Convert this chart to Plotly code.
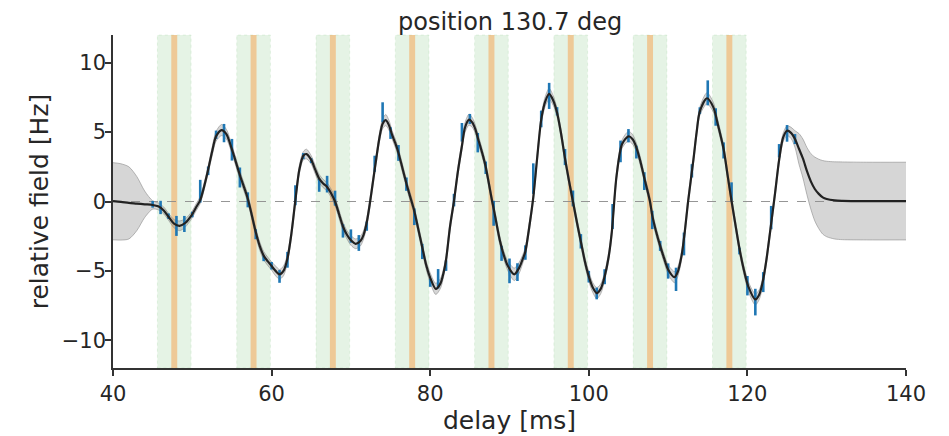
import plotly.graph_objects as go

# ---- fitted curve ----
curve_x = [40.0, 41.0, 42.0, 43.0, 44.0, 45.0, 45.7, 46.4, 47.0, 47.7,
           48.4, 49.1, 49.9, 50.5, 51.0, 51.5, 52.0, 52.5, 53.0, 53.7,
           54.3, 55.0, 56.0, 57.0, 58.0, 58.5, 59.0, 59.5, 60.0, 60.5,
           61.0, 61.5, 62.0, 62.5, 63.0, 63.5, 64.0, 64.4, 65.0, 65.5,
           66.0, 66.5, 67.0, 67.5, 68.0, 68.5, 69.0, 69.5, 70.0, 70.6,
           71.2, 71.6, 72.0, 72.4, 72.8, 73.2, 73.6, 74.0, 74.4, 74.8,
           75.2, 75.6, 76.0, 76.5, 77.0, 77.5, 78.0, 78.5, 79.0, 79.5,
           80.0, 80.7, 81.3, 81.7, 82.0, 82.5, 83.0, 83.5, 84.0, 84.4,
           84.9, 85.3, 85.7, 86.0, 86.7, 87.0, 87.8, 88.0, 88.8, 89.3,
           89.8, 90.6, 91.2, 91.7, 92.0, 92.5, 93.0, 93.5, 94.0, 94.5,
           95.0, 95.5, 96.0, 96.5, 97.0, 97.5, 98.0, 98.5, 99.0, 99.5,
           100.0, 100.5, 101.0, 101.5, 102.0, 102.5, 102.9, 103.5, 104.2, 105.0,
           105.5, 106.0, 106.5, 107.0, 107.7, 108.0, 108.5, 109.0, 109.5, 110.0,
           110.8, 111.2, 111.7, 112.1, 112.5, 113.2, 113.6, 114.0, 114.9, 115.7,
           116.3, 117.0, 117.5, 118.0, 118.5, 119.0, 119.5, 120.1, 121.0, 121.5,
           122.0, 122.4, 122.85, 123.5, 124.0, 124.5, 125.0, 125.5, 126.0, 126.5,
           127.0, 127.5, 128.0, 128.5, 129.0, 129.5, 130.0, 131.0, 132.0, 135.0,
           140.0]
curve_y = [0.02, -0.03, -0.1, -0.15, -0.2, -0.25, -0.35, -0.65, -1.1, -1.6,
           -1.75, -1.55, -1.0, -0.4, 0.1, 1.1, 2.3, 3.6, 4.7, 5.15,
           4.85, 3.75, 1.9, 0.2, -2.2, -3.2, -3.9, -4.3, -4.65, -5.0,
           -5.25, -5.0, -4.1, -2.3, 0.1, 2.3, 3.3, 3.42, 3.0, 2.3,
           1.65, 1.3, 1.05, 0.6, 0.0, -0.9, -1.8, -2.4, -2.8, -3.05,
           -2.85, -2.4, -1.5, -0.1, 1.5, 3.1, 4.6, 5.6, 5.87, 5.5,
           4.8, 4.2, 3.5, 2.4, 1.3, 0.3, -0.7, -2.0, -3.3, -4.6,
           -5.5, -6.3, -5.9, -5.1, -4.2, -1.8, 0.05, 2.2, 4.0, 5.35,
           5.9, 5.7, 5.2, 4.6, 3.2, 2.5, 0.05, -0.5, -2.85, -3.9,
           -4.65, -5.25, -4.8, -4.1, -3.6, -1.8, 0.3, 3.2, 5.9, 7.2,
           7.75, 7.3, 6.4, 4.9, 3.1, 1.5, 0.0, -1.5, -2.9, -4.3,
           -5.4, -6.2, -6.6, -6.3, -5.4, -4.0, -2.2, 1.85, 4.14, 4.7,
           4.5, 3.9, 2.9, 1.7, 0.05, -1.0, -2.2, -3.2, -4.1, -4.9,
           -5.45, -5.1, -3.9, -2.2, -0.1, 3.06, 5.0, 6.5, 7.44, 6.8,
           5.5, 3.78, 1.9, 0.05, -1.7, -3.4, -4.8, -6.1, -7.06, -6.7,
           -5.6, -4.2, -2.24, 0.65, 3.0, 4.6, 5.1, 4.95, 4.5, 3.8,
           3.1, 2.2, 1.45, 0.9, 0.55, 0.3, 0.18, 0.08, 0.05, 0.03,
           0.03]
curve_sd = [2.78, 2.75, 2.6, 1.95, 0.95, 0.3, 0.25, 0.25, 0.25, 0.3,
            0.35, 0.3, 0.25, 0.25, 0.25, 0.25, 0.25, 0.3, 0.35, 0.4,
            0.35, 0.3, 0.3, 0.3, 0.3, 0.3, 0.3, 0.3, 0.3, 0.35,
            0.35, 0.35, 0.3, 0.3, 0.3, 0.3, 0.3, 0.35, 0.3, 0.3,
            0.3, 0.3, 0.3, 0.3, 0.3, 0.3, 0.3, 0.3, 0.35, 0.35,
            0.35, 0.3, 0.3, 0.3, 0.3, 0.3, 0.3, 0.35, 0.4, 0.35,
            0.3, 0.3, 0.3, 0.3, 0.3, 0.3, 0.3, 0.3, 0.3, 0.3,
            0.35, 0.4, 0.35, 0.3, 0.3, 0.3, 0.3, 0.3, 0.3, 0.35,
            0.4, 0.35, 0.3, 0.3, 0.3, 0.3, 0.3, 0.3, 0.3, 0.3,
            0.35, 0.45, 0.4, 0.3, 0.3, 0.3, 0.3, 0.3, 0.3, 0.35,
            0.4, 0.35, 0.3, 0.3, 0.3, 0.3, 0.3, 0.3, 0.3, 0.3,
            0.35, 0.35, 0.4, 0.35, 0.3, 0.3, 0.3, 0.3, 0.3, 0.35,
            0.35, 0.3, 0.3, 0.3, 0.3, 0.3, 0.3, 0.3, 0.3, 0.35,
            0.4, 0.35, 0.3, 0.3, 0.3, 0.3, 0.3, 0.3, 0.4, 0.35,
            0.3, 0.3, 0.3, 0.3, 0.3, 0.3, 0.3, 0.35, 0.4, 0.35,
            0.3, 0.3, 0.3, 0.3, 0.3, 0.3, 0.35, 0.4, 0.6, 1.1,
            1.4, 1.7, 2.0, 2.3, 2.5, 2.65, 2.72, 2.78, 2.8, 2.8,
            2.8]

# ---- measured points with error bars ----
bar_x = list(range(45, 127))
bar_y = [-0.2, -0.43, -1.06, -1.76, -1.62, -0.94, 0.74, 2.21, 4.81, 4.93,
         3.73, 1.73, 0.12, -2.36, -4.1, -4.63, -5.4, -4.2, 0.45, 3.27,
         2.94, 1.18, 1.25, 0.24, -2.12, -2.49, -2.99, -1.78, 2.72, 6.43,
         4.93, 3.5, 1.25, -1.1, -3.6, -5.85, -5.57, -4.62, 0.1, 4.99,
         5.95, 4.24, 2.43, -0.85, -3.74, -5.0, -5.09, -3.68, 1.65, 5.95,
         7.61, 6.5, 3.2, 0.22, -2.87, -5.42, -6.63, -5.42, -1.08, 3.61,
         4.74, 3.56, 1.47, -1.33, -3.2, -5.01, -5.61, -3.06, 2.21, 6.55,
         7.83, 6.09, 3.68, 0.72, -3.57, -6.07, -7.25, -5.81, -1.16, 3.66,
         4.91, 4.5]
bar_err = [0.24, 0.48, 0.2, 0.72, 0.58, 0.2, 0.82, 0.31, 0.3, 0.66,
           0.78, 0.72, 0.54, 0.36, 0.2, 0.27, 0.46, 0.57, 0.72, 0.22,
           0.17, 0.48, 0.6, 0.54, 0.48, 0.48, 0.57, 0.33, 0.58, 0.72,
           0.42, 0.57, 0.48, 0.6, 0.55, 0.3, 0.7, 0.38, 0.45, 0.67,
           0.36, 0.7, 0.45, 0.9, 0.54, 0.89, 0.64, 0.52, 1.1, 0.6,
           0.94, 0.3, 0.58, 0.57, 0.52, 0.42, 0.42, 0.54, 0.9, 0.78,
           0.48, 0.46, 0.64, 0.66, 0.36, 0.55, 0.84, 0.82, 0.48, 0.24,
           0.9, 0.63, 0.58, 0.66, 0.24, 0.7, 0.96, 0.72, 0.84, 0.48,
           0.6, 0.36]

# ---- stimulus windows ----
green_start = [45.6, 55.6, 65.6, 75.6, 85.6, 95.6, 105.6, 115.6]
green_end = [49.85, 59.85, 69.85, 79.85, 89.85, 99.85, 109.85, 119.85]
orange_start = [47.35, 57.35, 67.35, 77.35, 87.35, 97.35, 107.35, 117.35]
orange_end = [48.1, 58.1, 68.1, 78.1, 88.1, 98.1, 108.1, 118.1]

title_text = "position 130.7 deg"
x_label = "delay [ms]"
y_label = "relative field [Hz]"

FONT = "DejaVu Sans"
TXT = "#262626"

fig = go.Figure()

shapes = []
for a, b in zip(green_start, green_end):
    shapes.append(dict(type="rect", xref="x", yref="paper", x0=a, x1=b, y0=0, y1=1,
                       fillcolor="rgba(44,160,44,0.12)",
                       line=dict(color="rgba(44,160,44,0.10)", width=1, dash="dot"),
                       layer="below"))
for a, b in zip(orange_start, orange_end):
    shapes.append(dict(type="rect", xref="x", yref="paper", x0=a, x1=b, y0=0, y1=1,
                       fillcolor="rgba(255,127,14,0.36)", line=dict(width=0),
                       layer="below"))

upper = [y + s for y, s in zip(curve_y, curve_sd)]
lower = [y - s for y, s in zip(curve_y, curve_sd)]

fig.add_trace(go.Scatter(x=curve_x, y=upper, mode="lines",
                         line=dict(color="rgba(140,140,140,0.6)", width=1, shape="spline", smoothing=0.8),
                         hoverinfo="skip", showlegend=False))
fig.add_trace(go.Scatter(x=curve_x, y=lower, mode="lines", fill="tonexty",
                         fillcolor="rgba(140,140,140,0.36)",
                         line=dict(color="rgba(140,140,140,0.6)", width=1, shape="spline", smoothing=0.8),
                         hoverinfo="skip", showlegend=False))

# zero reference line
fig.add_trace(go.Scatter(x=[curve_x[0], curve_x[-1]], y=[0, 0], mode="lines",
                         line=dict(color="#8a8a8a", width=0.9, dash="dash"),
                         hoverinfo="skip", showlegend=False))

fig.add_trace(go.Scatter(x=bar_x, y=bar_y, mode="markers",
                         marker=dict(size=1, color="rgba(0,0,0,0)"),
                         error_y=dict(type="data", array=bar_err, symmetric=True,
                                      width=0, thickness=2.6, color="#1f77b4"),
                         showlegend=False))

fig.add_trace(go.Scatter(x=curve_x, y=curve_y, mode="lines",
                         line=dict(color="#222222", width=2.2, shape="spline", smoothing=0.8),
                         showlegend=False))

# page body has an 8px margin, so the figure is sized/offset to compensate
fig.update_layout(
    width=941, height=428,
    margin=dict(l=105, r=43, t=27, b=68, autoexpand=False),
    paper_bgcolor="white", plot_bgcolor="white",
    font=dict(family=FONT, color=TXT, size=21),
    shapes=shapes,
    annotations=[dict(text=title_text, x=0.5, y=1, xref="paper", yref="paper",
                      xanchor="center", yanchor="bottom", yshift=-3, showarrow=False,
                      font=dict(size=24, family=FONT, color=TXT))],
    xaxis=dict(range=[40, 140], tickvals=[40, 60, 80, 100, 120, 140],
               showline=True, linecolor="#333333", linewidth=1.6,
               ticks="outside", ticklen=6, tickwidth=1.6, tickcolor="#333333",
               showgrid=False, zeroline=False, automargin=False,
               tickfont=dict(size=21, family=FONT, color=TXT),
               title=dict(text=x_label, font=dict(size=25, family=FONT, color=TXT), standoff=3)),
    yaxis=dict(range=[-12, 12], tickvals=[-10, -5, 0, 5, 10],
               showline=True, linecolor="#333333", linewidth=1.6,
               ticks="outside", ticklen=6, tickwidth=1.6, tickcolor="#333333",
               showgrid=False, zeroline=False, automargin=False,
               ticklabelstandoff=-5,
               tickfont=dict(size=21, family=FONT, color=TXT),
               title=dict(text=y_label, font=dict(size=25, family=FONT, color=TXT), standoff=6)),
)

fig.write_html("out.html")
